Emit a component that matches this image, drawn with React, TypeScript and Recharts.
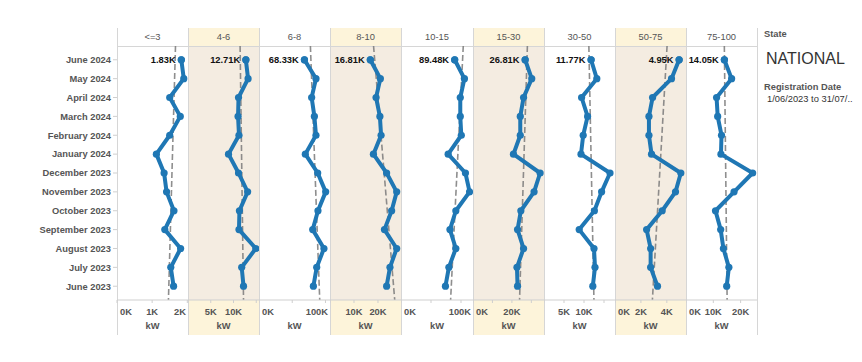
import React from 'react';
import { ScatterChart, Scatter, XAxis, YAxis, ReferenceLine, ReferenceDot } from 'recharts';

const months = [
  'June 2024', 'May 2024', 'April 2024', 'March 2024', 'February 2024', 'January 2024',
  'December 2023', 'November 2023', 'October 2023', 'September 2023', 'August 2023', 'July 2023', 'June 2023',
];

const bands = ['<=3', '4-6', '6-8', '8-10', '10-15', '15-30', '30-50', '50-75', '75-100'];

// thousands of kW per month, June 2024 first
const kwLe3 = [1.83, 1.9, 1.5, 1.8, 1.5, 1.12, 1.34, 1.41, 1.62, 1.36, 1.81, 1.53, 1.61];
const kw4to6 = [12.71, 13.2, 11.1, 11.0, 11.2, 8.9, 11.1, 13.1, 11.3, 11.2, 14.9, 11.8, 12.2];
const kw6to8 = [68.33, 85.7, 79.2, 83.3, 85.7, 69.7, 88.3, 100.3, 88.7, 80.8, 97.7, 86.8, 81.8];
const kw8to10 = [16.81, 21.0, 19.2, 20.8, 21.3, 18.1, 23.6, 27.8, 25.7, 22.7, 27.8, 25.0, 23.6];
const kw10to15 = [89.48, 105.7, 98.8, 98.8, 100.5, 78.6, 107.4, 114.3, 91.4, 81.6, 91.4, 79.8, 74.1];
const kw15to30 = [26.81, 30.2, 26.0, 24.3, 24.3, 20.8, 34.5, 31.4, 24.6, 22.9, 26.0, 22.6, 22.9];
const kw30to50 = [11.77, 13.2, 9.4, 10.9, 9.8, 9.25, 16.5, 14.4, 12.6, 8.8, 12.5, 12.75, 12.2];
const kw50to75 = [4.95, 4.36, 2.9, 2.62, 2.62, 2.82, 5.08, 4.67, 3.64, 2.44, 2.75, 2.75, 3.28];
const kw75to100 = [14.05, 16.7, 11.2, 11.6, 13.0, 12.8, 24.4, 17.6, 10.8, 12.7, 13.7, 15.7, 14.9];

const series = [kwLe3, kw4to6, kw6to8, kw8to10, kw10to15, kw15to30, kw30to50, kw50to75, kw75to100];

const axisMax = [2.02, 15.6, 106.8, 29.6, 120, 36.5, 17.75, 5.48, 26];
const axisTicks = [[0, 1, 2], [0, 5, 10, 15], [0, 50, 100], [0, 10, 20], [0, 50, 100], [0, 10, 20, 30], [0, 5, 10, 15], [0, 2, 4], [0, 10, 20]];
const tickLabels = [[0, 1, 2], [5, 10], [0, 100], [10, 20], [0, 100], [0, 20], [5, 10], [0, 2, 4], [0, 10, 20]];

const BLUE = '#1f77b4';
const GREY = '#555';
const LINE = '#d6d6d6';
const SHADE = '#f4ece1';
const SHADE_HEAD = '#fdf4da';
const FONT = 'Arial, "Liberation Sans", Helvetica, sans-serif';
const FS = 9.33; // 7pt

const PLOT_TOP = 46;
const CHART_H = 289;
const Y_LO = -0.73;
const Y_HI = 12.73;
const Y_AXIS_W = 117;

const edges = Array.from({ length: 10 }, (_, i) => Math.round(117 + i * 71.1));

function trendEnds(vals: number[]) {
  const n = vals.length;
  const mx = (n - 1) / 2;
  const my = vals.reduce((a, b) => a + b, 0) / n;
  let sxy = 0;
  let sxx = 0;
  vals.forEach((v, i) => {
    sxy += (i - mx) * (v - my);
    sxx += (i - mx) * (i - mx);
  });
  const b = sxy / sxx;
  return [my + b * (Y_LO - mx), my + b * (Y_HI - mx)];
}

const AxisTick = (props: any) => {
  const { x, y, payload, labels, left, width } = props;
  if (!labels.includes(payload.value)) return <g />;
  const text = `${payload.value}K`;
  const w = text.length * 5.6;
  let anchor = 'middle';
  let tx = x;
  if (x - w / 2 < left + 2) {
    anchor = 'start';
    tx = left + 3;
  } else if (x + w / 2 > left + width - 1) {
    anchor = 'end';
    tx = left + width - 2;
  }
  return (
    <text x={tx} y={y + 9.5} textAnchor={anchor} fill={GREY} fontSize={FS} fontWeight="bold">
      {text}
    </text>
  );
};

const Dot = (p: any) => <circle cx={p.cx} cy={p.cy} r={3.6} fill={BLUE} />;

function Panel({ idx }: { idx: number }) {
  const vals = series[idx];
  const data = vals.map((v, i) => ({ v, i }));
  const [t0, t1] = trendEnds(vals);
  const first = idx === 0;
  const w = edges[idx + 1] - edges[idx];
  const yW = first ? Y_AXIS_W : 0;
  return (
    <div style={{ position: 'absolute', left: edges[idx] - yW, top: PLOT_TOP }}>
      <ScatterChart width={w + yW} height={CHART_H} margin={{ top: 0, right: 0, bottom: 0, left: 0 }}>
        <XAxis
          type="number"
          dataKey="v"
          domain={[0, axisMax[idx]]}
          ticks={axisTicks[idx]}
          interval={0}
          height={35}
          tickSize={3}
          stroke="#cfcfcf"
          tick={<AxisTick labels={tickLabels[idx]} left={yW} width={w} />}
          label={{ value: 'kW', position: 'insideBottom', offset: 6, fill: GREY, fontSize: FS, fontWeight: 'bold' }}
        />
        <YAxis
          type="number"
          dataKey="i"
          domain={[Y_LO, Y_HI]}
          ticks={months.map((_, i) => i)}
          interval={0}
          reversed
          hide={!first}
          width={Y_AXIS_W}
          axisLine={false}
          tickSize={4}
          stroke="#cfcfcf"
          tickFormatter={(i: number) => months[i]}
          tick={{ fill: GREY, fontSize: FS, fontWeight: 'bold' }}
        />
        <Scatter
          data={data}
          fill={BLUE}
          line={{ stroke: BLUE, strokeWidth: 4, strokeLinejoin: 'round' }}
          shape={Dot}
          isAnimationActive={false}
        />
        <ReferenceLine
          segment={[{ x: t0, y: Y_LO }, { x: t1, y: Y_HI }]}
          stroke="#7a7a7a"
          strokeOpacity={0.85}
          strokeWidth={1.6}
          strokeDasharray="6 3"
          ifOverflow="visible"
        />
        <ReferenceDot
          x={vals[0]}
          y={0}
          r={3.6}
          fill={BLUE}
          stroke="none"
          label={{ value: `${vals[0].toFixed(2)}K`, position: 'left', offset: 2, fill: '#111', fontSize: FS, fontWeight: 'bold' }}
        />
      </ScatterChart>
    </div>
  );
}

export default function App() {
  return (
    <div style={{ position: 'absolute', left: 0, top: 0, width: 862, height: 362, background: '#fff', fontFamily: FONT, overflow: 'hidden' }}>
      {bands.map((b, i) => {
        const shaded = i % 2 === 1;
        const left = edges[i];
        const w = edges[i + 1] - edges[i];
        return (
          <React.Fragment key={b}>
            <div style={{ position: 'absolute', left, top: 28, width: w, height: 18, background: shaded ? SHADE_HEAD : 'transparent', color: GREY, fontSize: FS, lineHeight: '18px', textAlign: 'center' }}>
              {b}
            </div>
            {shaded && <div style={{ position: 'absolute', left, top: 46, width: w, height: 254, background: SHADE }} />}
            {shaded && <div style={{ position: 'absolute', left, top: 300, width: w, height: 35, background: SHADE_HEAD }} />}
          </React.Fragment>
        );
      })}
      {edges.map((x) => (
        <div key={x} style={{ position: 'absolute', left: x, top: 28, width: 1, height: 307, background: LINE }} />
      ))}
      <div style={{ position: 'absolute', left: edges[0], top: 46, width: edges[9] - edges[0], height: 1, background: LINE }} />
      {bands.map((b, i) => (
        <Panel key={b} idx={i} />
      ))}
      <div style={{ position: 'absolute', left: 764, top: 29, fontSize: FS, fontWeight: 'bold', color: GREY }}>State</div>
      <div style={{ position: 'absolute', left: 766, top: 50, fontSize: 16, color: '#333' }}>NATIONAL</div>
      <div style={{ position: 'absolute', left: 764, top: 82, fontSize: FS, fontWeight: 'bold', color: GREY }}>Registration Date</div>
      <div style={{ position: 'absolute', left: 767, top: 94, fontSize: FS, color: '#333', whiteSpace: 'nowrap' }}>1/06/2023 to 31/07/..</div>
    </div>
  );
}
